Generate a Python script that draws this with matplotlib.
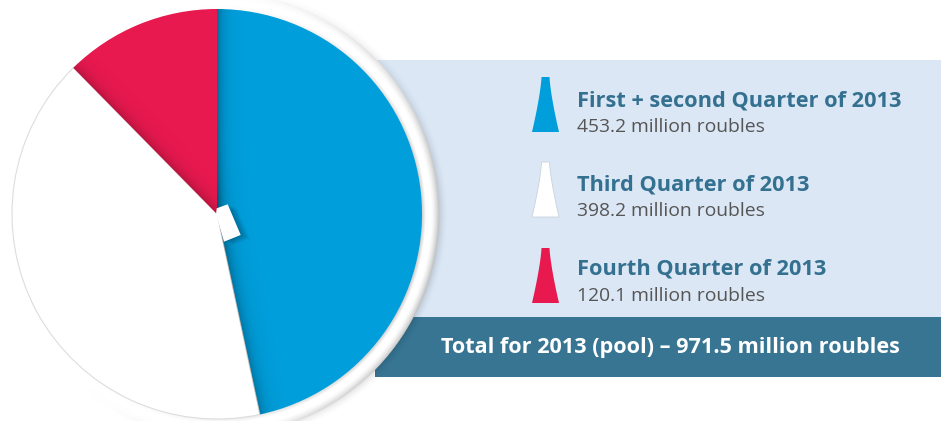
import numpy as np
import matplotlib.pyplot as plt
from matplotlib.patches import Rectangle, Polygon

# -----------------------------
# data
# -----------------------------
quarters = ["First + second Quarter of 2013", "Third Quarter of 2013", "Fourth Quarter of 2013"]
values = [453.2, 398.2, 120.1]
value_labels = ["453.2 million roubles", "398.2 million roubles", "120.1 million roubles"]
colors = ["#009edb", "#ffffff", "#e8194f"]
total_label = "Total for 2013 (pool) \u2013 971.5 million roubles"

W, H = 941, 421
fig = plt.figure(figsize=(W / 100, H / 100), dpi=100)
ax = fig.add_axes([0, 0, 1, 1])

cx, cy, R = 217, 214, 205
ring_w = 17

# -----------------------------
# background panel + total bar
# -----------------------------
ax.add_patch(Rectangle((375, 60), W - 375, 257, facecolor="#dbe7f5", edgecolor="none", zorder=1))
ax.add_patch(Rectangle((375, 317), W - 375, 60, facecolor="#377593", edgecolor="none", zorder=1))

# pixel grid used for the soft shading
yy, xx = np.mgrid[0:H, 0:W] + 0.5
dx, dy = xx - cx, yy - cy
r = np.hypot(dx, dy)

# white ring with grey shading, lit mostly on the right side
theta = np.arctan2(-dy, dx)
side = np.clip((np.cos(theta + np.radians(15)) + 0.35) / 1.35, 0, 1) ** 1.5
dark_in = np.where(r < R + 4, 0.20 * np.clip(1 - (r - R) / 4, 0, 1), 0)
dark_in += np.where(r > R + 9, 0.24 * np.clip((r - R - 9) / 8, 0, 1) ** 1.5, 0)
dark_in *= side
dark_out = 0.14 * np.clip(1 - (r - R - ring_w) / 10, 0, 1) ** 2 * side
cov = np.clip(R + ring_w + 0.5 - r, 0, 1) * (r > R - 2)
a_sh = np.where(r > R + ring_w - 1, dark_out, 0)
alpha = cov + (1 - cov) * a_sh
col = np.where(alpha > 0, cov * (1 - dark_in) / np.maximum(alpha, 1e-6), 0)
ring = np.dstack([col, col, col, alpha])
ax.imshow(ring, extent=(0, W, H, 0), origin="upper", interpolation="nearest", zorder=2)

# -----------------------------
# pie
# -----------------------------
wedges, _ = ax.pie(values, colors=colors, startangle=270, counterclock=True,
                   center=(cx, cy), radius=R, wedgeprops=dict(linewidth=0))
for wdg in wedges:
    wdg.set_zorder(3)
wedges[1].set_edgecolor("#dddddd")
wedges[1].set_linewidth(0.8)


def ray_dist(angle_deg):
    a = np.radians(angle_deg)
    return np.abs(dx * np.sin(a) - dy * np.cos(a))


def shade(alpha_map, clip):
    img = np.zeros((H, W, 4))
    img[..., 3] = np.clip(alpha_map, 0, 1)
    im = ax.imshow(img, extent=(0, W, H, 0), origin="upper", interpolation="bilinear", zorder=4)
    im.set_clip_path(clip)


blue, white, red = wedges
shade(0.32 * np.exp(-ray_dist(blue.theta1) / 6) + 0.26 * np.exp(-ray_dist(blue.theta2) / 7), blue)
shade(0.22 * np.exp(-ray_dist(red.theta1) / 6), red)

# small white notch at the centre, with its shadow on the blue slice
notch = [(216.7, 208.3), (227.7, 204.3), (240.7, 235), (224, 241.7), (216, 214)]
for k in range(1, 7):
    p = Polygon([(x + 1.5 * k, y + 0.6 * k) for x, y in notch], closed=True,
                facecolor="black", edgecolor="none", alpha=0.045, zorder=4)
    ax.add_patch(p)
    p.set_clip_path(blue)
ax.add_patch(Polygon(notch, closed=True, facecolor="white", edgecolor="none", zorder=5))

# -----------------------------
# legend
# -----------------------------
font = ["Open Sans", "DejaVu Sans"]
icon_tops = [77, 162, 248]
title_base = [106, 190, 274]
sub_base = [132, 216, 301]
t = np.linspace(0, 1, 40)
half = 4 + 9.5 * t ** 1.35
for i in range(3):
    ys = icon_tops[i] + 55 * t
    pts = list(zip(545.5 - half, ys)) + list(zip(545.5 + half[::-1], ys[::-1]))
    edge = "#c9d3dd" if colors[i] == "#ffffff" else "none"
    ax.add_patch(Polygon(pts, closed=True, facecolor=colors[i], edgecolor=edge,
                         linewidth=0.6, zorder=5))
    ax.text(577, title_base[i], quarters[i], family=font, fontweight="bold",
            fontsize=15.7, color="#34708f", va="baseline", ha="left", zorder=6)
    ax.text(577, sub_base[i], value_labels[i], family=font, fontsize=13.9,
            color="#555555", va="baseline", ha="left", zorder=6)

ax.text(670.5, 353, total_label, family=font, fontweight="bold", fontsize=15.6,
        color="white", va="baseline", ha="center", zorder=6)

ax.set_xlim(0, W)
ax.set_ylim(H, 0)
ax.set_aspect("equal")
ax.axis("off")

fig.savefig("out.png", dpi=100, facecolor="white")
